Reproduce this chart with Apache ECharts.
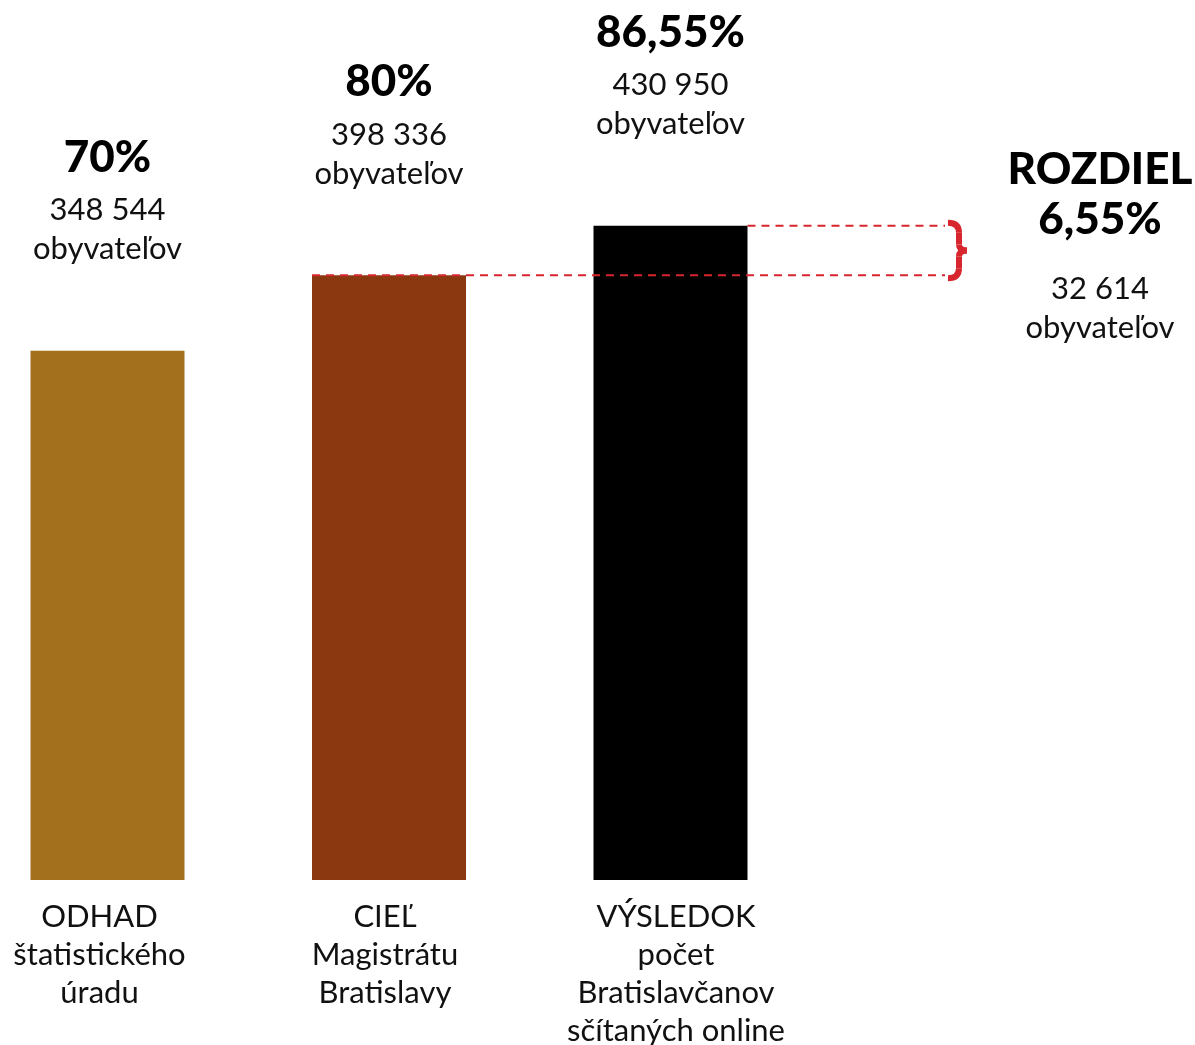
<!DOCTYPE html>
<html>
<head>
<meta charset="utf-8">
<script src="https://cdn.jsdelivr.net/npm/echarts@6/dist/echarts.min.js"></script>
<style>
  html, body { margin: 0; padding: 0; background: #fff; }
  #chart { width: 1195px; height: 1045px; }
</style>
</head>
<body>
<div id="chart"></div>
<script>
const categories = ['ODHAD\nštatistického\núradu', 'CIEĽ\nMagistrátu\nBratislavy', 'VÝSLEDOK\npočet\nBratislavčanov\nsčítaných online'];
const percents = [70, 80, 86.55];
const percentLabels = ['70%', '80%', '86,55%'];
const people = ['348 544', '398 336', '430 950'];
const barColors = ['#A3701D', '#8B3810', '#000000'];
const diffPercent = '6,55%';
const diffPeople = '32 614';

const FONT = 'Lato, "Noto Sans", sans-serif';
const RED = '#D7262E';
const BAR_W = 154;
const labelPads = [[0, 16, 0, 0], [0, 8, 0, 0], [0, 0, 0, 11]];

const chart = echarts.init(document.getElementById('chart'));

const option = {
  animation: false,
  grid: { left: 107.5, right: 524.5, top: 124, bottom: 165, outerBoundsMode: 'none' },
  xAxis: {
    type: 'category',
    boundaryGap: false,
    data: categories.map((c, i) => ({ value: c, textStyle: { padding: labelPads[i] } })),
    axisLine: { show: false },
    axisTick: { show: false },
    axisLabel: {
      interval: 0,
      margin: 18,
      color: '#111',
      fontFamily: FONT,
      fontSize: 31,
      lineHeight: 38,
      verticalAlign: 'top'
    }
  },
  yAxis: {
    type: 'value',
    min: 0,
    max: 100,
    show: false,
    splitLine: { show: false }
  },
  series: [
    {
      type: 'bar',
      barWidth: BAR_W,
      data: percents.map((v, i) => ({ value: v, itemStyle: { color: barColors[i] } })),
      label: {
        show: true,
        position: 'top',
        distance: 82,
        formatter: (p) => `{pct|${percentLabels[p.dataIndex]}}\n{n|${people[p.dataIndex]}}\n{n|obyvateľov}`,
        rich: {
          pct: { fontFamily: FONT, fontWeight: 900, fontSize: 44, lineHeight: 66, color: '#000' },
          n: { fontFamily: FONT, fontSize: 31, lineHeight: 39, color: '#111' }
        }
      }
    }
  ]
};

chart.setOption(option);

// dashed difference lines and brace, placed from data values
const low = chart.convertToPixel({ gridIndex: 0 }, [1, percents[1]]);
const high = chart.convertToPixel({ gridIndex: 0 }, [2, percents[2]]);
const xEnd = 945;
const bx = 948;
const y1 = high[1] - 3, y2 = low[1] + 3, ym = (y1 + y2) / 2;
const braceStyle = { stroke: RED, lineWidth: 6, fill: null, lineCap: 'butt' };

chart.setOption({
  graphic: [
    {
      type: 'line',
      shape: { x1: low[0] - BAR_W / 2, y1: low[1], x2: xEnd, y2: low[1] },
      style: { stroke: RED, lineWidth: 2, lineDash: [8, 6] },
      z: 10
    },
    {
      type: 'line',
      shape: { x1: high[0] + BAR_W / 2, y1: high[1], x2: xEnd, y2: high[1] },
      style: { stroke: RED, lineWidth: 2, lineDash: [8, 6] },
      z: 10
    },
    {
      type: 'bezierCurve',
      shape: { x1: bx, y1: y1, cpx1: bx + 11, cpy1: y1, x2: bx + 11, y2: y1 + 10 },
      style: braceStyle, z: 10
    },
    {
      type: 'line',
      shape: { x1: bx + 11, y1: y1 + 10, x2: bx + 11, y2: ym - 6 },
      style: braceStyle, z: 10
    },
    {
      type: 'bezierCurve',
      shape: { x1: bx + 11, y1: ym - 6, cpx1: bx + 11, cpy1: ym, x2: bx + 19, y2: ym },
      style: braceStyle, z: 10
    },
    {
      type: 'bezierCurve',
      shape: { x1: bx + 19, y1: ym, cpx1: bx + 11, cpy1: ym, x2: bx + 11, y2: ym + 6 },
      style: braceStyle, z: 10
    },
    {
      type: 'line',
      shape: { x1: bx + 11, y1: ym + 6, x2: bx + 11, y2: y2 - 10 },
      style: braceStyle, z: 10
    },
    {
      type: 'bezierCurve',
      shape: { x1: bx + 11, y1: y2 - 10, cpx1: bx + 11, cpy1: y2, x2: bx, y2: y2 },
      style: braceStyle, z: 10
    },
    {
      type: 'text',
      x: 1100,
      y: 145,
      z: 10,
      style: {
        text: `{b|ROZDIEL}\n{b|${diffPercent}}\n{sp|}\n{n|${diffPeople}}\n{n|obyvateľov}`,
        align: 'center',
        verticalAlign: 'top',
        rich: {
          b: { fontFamily: FONT, fontWeight: 900, fontSize: 44, lineHeight: 50, fill: '#000', align: 'center' },
          sp: { fontSize: 10, lineHeight: 24 },
          n: { fontFamily: FONT, fontSize: 31, lineHeight: 39, fill: '#111', align: 'center' }
        }
      }
    }
  ]
});

window.addEventListener('resize', () => chart.resize());
</script>
</body>
</html>
